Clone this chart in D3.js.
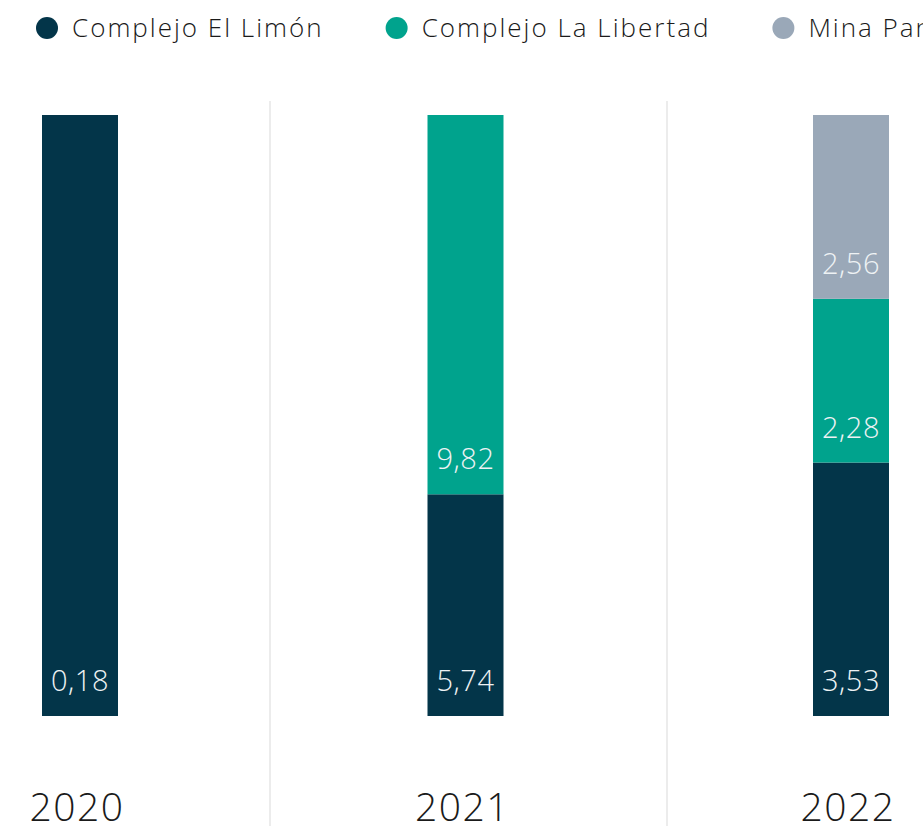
<!DOCTYPE html>
<html>
<head>
<meta charset="utf-8">
<script src="https://cdn.jsdelivr.net/npm/d3@7"></script>
<style>
  body { margin: 0; background: #fff; }
  svg { display: block; font-family: "Open Sans", sans-serif; font-weight: 300; }
</style>
</head>
<body>
<div id="chart"></div>
<script>
// data
var years = ["2020", "2021", "2022"];
var series = ["Complejo El Limón", "Complejo La Libertad", "Mina Panteón"];
var elLimon = [0.18, 5.74, 3.53];
var laLibertad = [0, 9.82, 2.28];
var minaPanteon = [0, 0, 2.56];
var colors = ["#033549", "#00a38d", "#9aa8b8"];

var width = 923, height = 830;

var svg = d3.select("#chart")
  .append("svg")
    .attr("width", width)
    .attr("height", height);

// build rows for the stack
var data = years.map(function(y, i) {
  return { year: y, "Complejo El Limón": elLimon[i], "Complejo La Libertad": laLibertad[i], "Mina Panteón": minaPanteon[i] };
});
// normalize each year to 100
var norm = data.map(function(d) {
  var tot = 0;
  series.forEach(function(k) { tot += d[k]; });
  var o = { year: d.year };
  series.forEach(function(k) { o[k] = d[k] / tot * 100; o["raw_" + k] = d[k]; });
  return o;
});

var stacked = d3.stack().keys(series)(norm);

var x = d3.scalePoint().domain(years).range([80, 851]);
var barW = 76;
var y = d3.scaleLinear().domain([0, 100]).range([716, 115]);
var color = d3.scaleOrdinal().domain(series).range(colors);

// column separators
var cols = d3.scaleBand().domain(years).range([-127, 1064]);
svg.append("g")
  .selectAll("line")
  .data(years.slice(1))
  .enter().append("line")
    .attr("x1", function(d) { return cols(d); })
    .attr("x2", function(d) { return cols(d); })
    .attr("y1", 101)
    .attr("y2", 826)
    .attr("stroke", "#d9d9d9")
    .attr("stroke-width", 1);

// bars
var layers = svg.append("g")
  .selectAll("g")
  .data(stacked)
  .enter().append("g")
    .attr("fill", function(d) { return color(d.key); });

layers.selectAll("rect")
  .data(function(d) { return d.filter(function(p) { return p[1] - p[0] > 0; }); })
  .enter().append("rect")
    .attr("x", function(d) { return x(d.data.year) - barW / 2; })
    .attr("y", function(d) { return y(d[1]); })
    .attr("height", function(d) { return y(d[0]) - y(d[1]); })
    .attr("width", barW);

// value labels near segment bottom
stacked.forEach(function(layer) {
  svg.append("g")
    .selectAll("text")
    .data(layer.filter(function(p) { return p[1] - p[0] > 0; }))
    .enter().append("text")
      .attr("x", function(d) { return x(d.data.year); })
      .attr("y", function(d) { return y(d[0]) - 35; })
      .attr("dy", "0.35em")
      .attr("text-anchor", "middle")
      .attr("fill", "#eef2f4")
      .style("font-size", "29px")
      .style("letter-spacing", "0.5px")
      .text(function(d) { return d3.format(".2f")(d.data["raw_" + layer.key]).replace(".", ","); });
});

// year labels
svg.append("g")
  .selectAll("text")
  .data(years)
  .enter().append("text")
    .attr("x", function(d) { return x(d) - 3; })
    .attr("y", 821)
    .attr("text-anchor", "middle")
    .attr("fill", "#1a1a1a")
    .style("font-size", "39px")
    .style("letter-spacing", "1.5px")
    .text(function(d) { return d; });

// legend
var legend = svg.append("g");
var lx = 47;
series.forEach(function(s) {
  legend.append("circle")
    .attr("cx", lx)
    .attr("cy", 28)
    .attr("r", 11)
    .attr("fill", color(s));
  var t = legend.append("text")
    .attr("x", lx + 25)
    .attr("y", 37)
    .attr("fill", "#1a1a1a")
    .style("font-size", "26px")
    .style("letter-spacing", "2px")
    .text(s);
  lx = lx + 25 + t.node().getComputedTextLength() + 73;
});
</script>
</body>
</html>
